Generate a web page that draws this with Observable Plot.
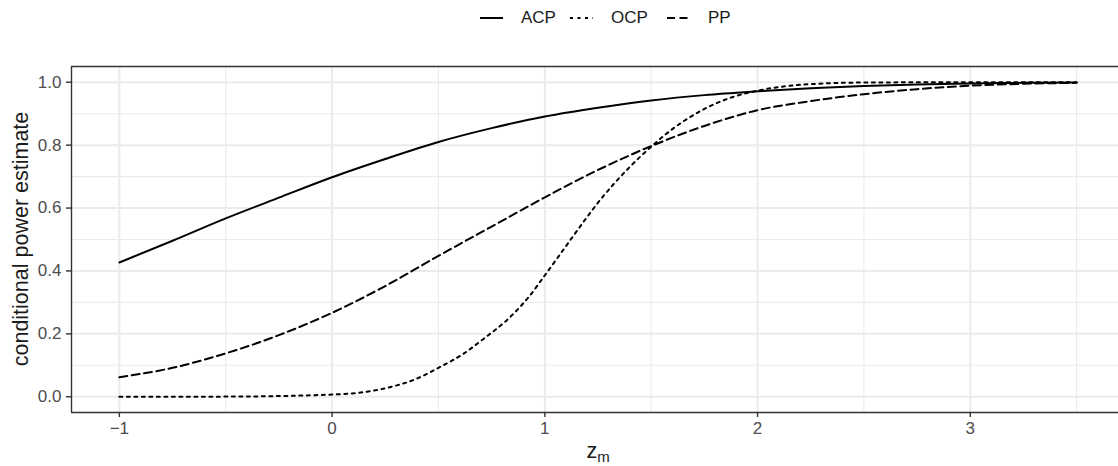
<!DOCTYPE html>
<html>
<head>
<meta charset="utf-8">
<script src="https://cdn.jsdelivr.net/npm/d3@7"></script>
<script src="https://cdn.jsdelivr.net/npm/@observablehq/plot@0.6"></script>
<style>
  html, body { margin: 0; padding: 0; background: #fff; }
  body { width: 1118px; height: 466px; overflow: hidden; position: relative; font-family: "Liberation Sans", Arial, sans-serif; }
  #legend { position: absolute; left: 0; top: 0; width: 1118px; height: 34px; }
  .item { position: absolute; top: 8px; display: flex; align-items: center; font-size: 17px; color: #1a1a1a; line-height: 20px; }
  .item svg { display: block; margin-right: 18px; }
  #chart { position: absolute; left: 0; top: 34px; }
  #chart svg { overflow: hidden; }
  #chart g[aria-label$="tick label"] { fill: #4d4d4d; }
</style>
</head>
<body>
<div id="legend"></div>
<div id="chart"></div>
<script>
// ---- data ----
const seriesNames = ["ACP", "OCP", "PP"];

const acpX = [-1, -0.75, -0.5, -0.25, 0, 0.25, 0.5, 0.75, 1, 1.25, 1.5, 1.75, 2, 2.25, 2.5, 2.75, 3, 3.25, 3.5];
const acpY = [0.427, 0.496, 0.567, 0.633, 0.698, 0.756, 0.810, 0.854, 0.891, 0.919, 0.942, 0.959, 0.971, 0.981, 0.988, 0.993, 0.996, 0.998, 0.999];

const ocpX = [-1, -0.5, 0, 0.25, 0.4, 0.5, 0.62, 0.7, 0.85, 0.93, 1.0, 1.09, 1.17, 1.25, 1.4, 1.5, 1.56, 1.75, 1.87, 2.0, 2.25, 2.5, 3, 3.5];
const ocpY = [0.0, 0.0005, 0.007, 0.027, 0.058, 0.092, 0.138, 0.178, 0.262, 0.322, 0.386, 0.470, 0.545, 0.617, 0.731, 0.795, 0.830, 0.915, 0.950, 0.973, 0.994, 0.999, 1.0, 1.0];

const ppX = [-1, -0.75, -0.5, -0.25, 0, 0.25, 0.5, 0.75, 1, 1.25, 1.5, 1.75, 2, 2.25, 2.5, 2.75, 3, 3.25, 3.5];
const ppY = [0.062, 0.092, 0.138, 0.196, 0.267, 0.352, 0.448, 0.541, 0.634, 0.721, 0.797, 0.861, 0.911, 0.940, 0.962, 0.978, 0.989, 0.995, 0.998];

const xMajor = [-1, 0, 1, 2, 3];
const xMinor = [-0.5, 0.5, 1.5, 2.5, 3.5];
const yMajor = [0, 0.2, 0.4, 0.6, 0.8, 1.0];
const yMinor = [0.1, 0.3, 0.5, 0.7, 0.9];

const xTitleMain = "z";
const xTitleSub = "m";
const yTitle = "conditional power estimate";

// ---- styles ----
const dashes = { ACP: null, OCP: "3,4.5", PP: "8,4.5" };
const lineW = 2;
const xDomain = [-1.225, 3.725];
const yDomain = [-0.05, 1.05];

// ---- build table ----
const rows = [];
acpX.forEach((x, i) => rows.push({ series: "ACP", x, y: acpY[i] }));
ocpX.forEach((x, i) => rows.push({ series: "OCP", x, y: ocpY[i] }));
ppX.forEach((x, i) => rows.push({ series: "PP", x, y: ppY[i] }));

const gridCol = "#ebebeb";
const borderCol = "#333333";

const lineMarks = seriesNames.map(s => Plot.line(rows.filter(d => d.series === s), {
  x: "x", y: "y", stroke: "#000", strokeWidth: lineW,
  strokeDasharray: dashes[s] || undefined, curve: "monotone-x"
}));

const plot = Plot.plot({
  width: 1118,
  height: 432,
  marginTop: 32,
  marginBottom: 54,
  marginLeft: 71,
  marginRight: 0,
  style: { fontFamily: "'Liberation Sans', Arial, sans-serif", fontSize: "17px", background: "#fff" },
  x: { domain: xDomain, range: [71, 1124] },
  y: { domain: yDomain },
  marks: [
    Plot.ruleX(xMinor, { stroke: gridCol, strokeWidth: 1.1 }),
    Plot.ruleY(yMinor, { stroke: gridCol, strokeWidth: 1.1 }),
    Plot.ruleX(xMajor, { stroke: gridCol, strokeWidth: 2 }),
    Plot.ruleY(yMajor, { stroke: gridCol, strokeWidth: 2 }),
    ...lineMarks,
    Plot.ruleY(yDomain, { stroke: borderCol, strokeWidth: 1.4 }),
    Plot.ruleX([xDomain[0]], { stroke: borderCol, strokeWidth: 1.4 }),
    Plot.axisX({ ticks: xMajor, tickSize: 5, tickPadding: 4.5, stroke: borderCol, strokeWidth: 1.4, label: null, fontSize: 17, tickFormat: d3.format("d") }),
    Plot.axisY({ ticks: yMajor, tickSize: 5, tickPadding: 5, stroke: borderCol, strokeWidth: 1.4, label: null, fontSize: 17, tickFormat: d3.format(".1f") })
  ]
});
document.getElementById("chart").appendChild(plot);

// axis titles
const svg = d3.select(plot);
const xt = svg.append("text")
  .attr("x", 598).attr("y", 424)
  .attr("text-anchor", "middle")
  .attr("fill", "#1a1a1a")
  .style("font-size", "21.5px");
xt.append("tspan").text(xTitleMain);
xt.append("tspan").attr("dy", 4).style("font-size", "15px").text(xTitleSub);

svg.append("text")
  .attr("transform", "translate(28,205) rotate(-90)")
  .attr("text-anchor", "middle")
  .attr("fill", "#1a1a1a")
  .style("font-size", "21.5px")
  .text(yTitle);

// legend
const legendPos = { ACP: 480, OCP: 570, PP: 667 };
const legend = d3.select("#legend");
seriesNames.forEach(s => {
  const it = legend.append("div").attr("class", "item").style("left", legendPos[s] + "px");
  const k = it.append("svg").attr("width", 23).attr("height", 20);
  k.append("line").attr("x1", 0).attr("x2", 23).attr("y1", 10).attr("y2", 10)
    .attr("stroke", "#000").attr("stroke-width", lineW)
    .attr("stroke-dasharray", dashes[s] || null);
  it.append("span").text(s);
});
</script>
</body>
</html>
